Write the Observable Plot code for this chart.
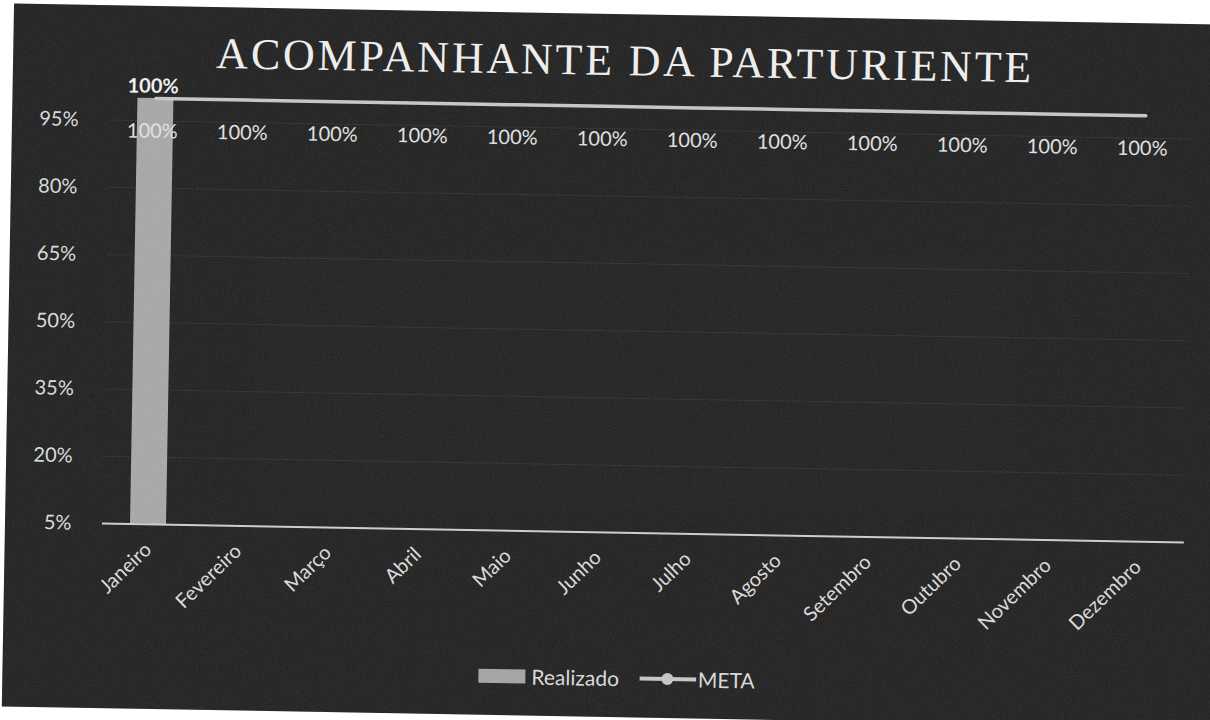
<!DOCTYPE html>
<html>
<head>
<meta charset="utf-8">
<script src="https://cdn.jsdelivr.net/npm/d3@7"></script>
<script src="https://cdn.jsdelivr.net/npm/@observablehq/plot@0.6"></script>
<style>
  html, body { margin: 0; padding: 0; background: #ffffff; width: 1210px; height: 720px; overflow: hidden; }
  #panel {
    position: absolute; left: 8px; top: 14px; width: 1232px; height: 703px;
    background: #1d1d1d; overflow: hidden;
    transform: rotate(1deg); transform-origin: 604px 342px;
  }
  #title {
    position: absolute; left: -8px; width: 1240px; top: 17px;
    text-align: center; font-family: "Liberation Serif", serif; font-size: 44px;
    color: #f2f2f2; letter-spacing: 2.8px; line-height: 60px;
  }
  #chart { position: absolute; left: -9px; top: -14px; }
  #legend {
    position: absolute; top: 651px; left: 476px;
    font-family: Lato, sans-serif; font-size: 21px; color: #dcdcdc;
    display: flex; align-items: center;
  }
  .sw-bar { display: inline-block; width: 47px; height: 14px; background: #a5a5a5; margin-right: 6px; }
  .sw-line { display: inline-block; width: 57px; height: 14px; margin-left: 20px; margin-right: 2px; }
  #grain { position: absolute; left: 0; top: 0; pointer-events: none; }
</style>
</head>
<body>
<div id="panel">
  <div id="title">ACOMPANHANTE DA PARTURIENTE</div>
  <div id="chart"></div>
  <div id="legend"></div>
  <svg id="grain" width="1232" height="703">
    <filter id="noise">
      <feTurbulence type="fractalNoise" baseFrequency="0.85" numOctaves="2" seed="7"/>
      <feColorMatrix type="saturate" values="0"/>
    </filter>
    <rect width="1232" height="703" filter="url(#noise)" opacity="0.16"/>
  </svg>
</div>
<script>
// Monthly share of parturients with a companion: achieved vs. target
const months = ["Janeiro", "Fevereiro", "Março", "Abril", "Maio", "Junho",
                "Julho", "Agosto", "Setembro", "Outubro", "Novembro", "Dezembro"];
const realizado = [100, null, null, null, null, null, null, null, null, null, null, null];
const meta = [100, 100, 100, 100, 100, 100, 100, 100, 100, 100, 100, 100];
const yTicks = [5, 20, 35, 50, 65, 80, 95];

const rows = months.map((mes, i) => ({ mes, realizado: realizado[i], meta: meta[i] }));
const done = rows.filter(d => d.realizado != null);
const pct = d => d + "%";

const chart = Plot.plot({
  width: 1210,
  height: 640,
  marginLeft: 106,
  marginRight: 22,
  marginTop: 106,
  marginBottom: 108,
  style: { background: "transparent", color: "#dedede", fontFamily: "Lato, sans-serif", fontSize: "20px" },
  x: { domain: months, paddingInner: 0.6, paddingOuter: 0.3, label: null },
  y: { domain: [5, 100], clamp: true, label: null },
  marks: [
    Plot.gridY(yTicks, { stroke: "#ffffff", strokeOpacity: 0.07, strokeWidth: 1 }),
    Plot.barY(done, { x: "mes", y: "realizado", fill: "#a8a8a8" }),
    Plot.ruleY([5], { stroke: "#d0d0d0", strokeWidth: 2 }),
    Plot.lineY(rows, { x: "mes", y: "meta", stroke: "#c8c8c8", strokeWidth: 3.5 }),
    Plot.text(rows, { x: "mes", y: "meta", text: d => pct(d.meta), dy: 33, dx: -3, fill: "#e4e4e4", fontSize: 20 }),
    Plot.text(done, { x: "mes", y: "realizado", text: d => pct(d.realizado), dy: -12, dx: -3, fill: "#f4f4f4", fontSize: 20, fontWeight: 700 }),
    Plot.axisY({ ticks: yTicks, tickFormat: pct, tickSize: 0, tickPadding: 31, label: null, fontSize: 20 }),
    Plot.axisX({ tickRotate: -45, tickSize: 0, tickPadding: 22, label: null, fontSize: 20 })
  ]
});
document.getElementById("chart").appendChild(chart);

// Legend: bar swatch for Realizado, line-with-marker for META
const legend = document.getElementById("legend");
legend.innerHTML =
  `<span class="sw-bar"></span><span>Realizado</span>` +
  `<svg class="sw-line" viewBox="0 0 57 14"><line x1="0" y1="7" x2="57" y2="7" stroke="#c8c8c8" stroke-width="4"/>` +
  `<circle cx="28" cy="7" r="6" fill="#c8c8c8"/></svg><span>META</span>`;
</script>
</body>
</html>
